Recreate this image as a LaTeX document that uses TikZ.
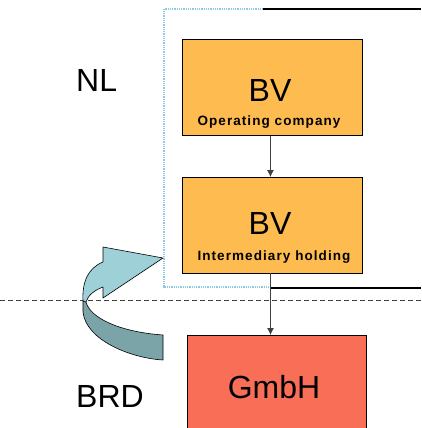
\documentclass[tikz,border=0pt]{standalone}
\usepackage{fontspec}
\setmainfont{Liberation Sans}
\newfontfamily\subfont[LetterSpace=8]{Liberation Sans}
\usetikzlibrary{arrows.meta}
\definecolor{bvorange}{HTML}{FDBB50}
\definecolor{gmbhred}{HTML}{F96E57}
\definecolor{frameblue}{HTML}{8FC8E2}
\definecolor{arrowlight}{HTML}{9ED0D8}
\definecolor{arrowdark}{HTML}{7BA4A9}
\tikzset{
  entity/.style={draw=black, line width=0.9pt, minimum width=180pt, minimum height=96pt, inner sep=0pt},
  big/.style={font=\fontsize{32}{32}\selectfont, anchor=base, inner sep=0pt},
  sub/.style={font=\subfont\bfseries\fontsize{13.5}{13.5}\selectfont, anchor=base, inner sep=0pt},
  own/.style={draw=black!75, line width=0.8pt, -{Latex[length=7pt,width=7pt]}},
  border/.style={line width=1.3pt, black},
  curlarrow/.style={draw=black, line width=0.6pt, line join=round}
}
\begin{document}
\begin{tikzpicture}[x=1pt, y=-1pt]
\useasboundingbox (0,0) rectangle (421,428);
\clip (0,0) rectangle (421,428);

% national frame and boundary lines
\draw[frameblue, line width=1.4pt, dash pattern=on 1pt off 0.8pt] (270,9) -- (164,9) -- (164,287) -- (270,287);
\draw[border] (263,9) -- (421,9);
\draw[border] (270,288) -- (421,288);
\draw[black!75, line width=0.8pt, dash pattern=on 5pt off 3pt] (0,300) -- (421,300);

% companies
\node[entity, fill=bvorange, anchor=north west] (op) at (182,39) {};
\node[entity, fill=bvorange, anchor=north west] (ih) at (182,177) {};
\node[entity, fill=gmbhred, anchor=north west, minimum width=179pt, minimum height=110pt] (gm) at (187,335) {};

\node[big] (opbv) at (270,101.7) {BV};
\node[sub] (optx) at (269,125) {Operating company};
\node[big] (ihbv) at (270,234) {BV};
\node[sub] (ihtx) at (274,260.7) {Intermediary holding};
\node[big] (gmtx) at (274,398.3) {GmbH};

% countries
\node[big, anchor=base west] (nl) at (76,92) {NL};
\node[big, anchor=base west] (brd) at (76,407) {BRD};

% shareholdings
\draw[own] ([xshift=-2pt]op.south) -- ([xshift=-2pt]ih.north);
\coordinate (ihout) at (270.5,273);
\coordinate (gmin) at (270.5,335);
\draw[own] (ihout) -- (gmin);

% curved arrow: lower (back) band
\path[curlarrow, fill=arrowdark] (83,301) -- (83,312)
  .. controls (86,340) and (130,358) .. (163,360) -- (163,335)
  .. controls (120,332) and (90,318) .. (86,302) -- cycle;
% curved arrow: upper band with head
\path[curlarrow, fill=arrowlight] (83,301)
  .. controls (82,282) and (88,268) .. (103,262)
  -- (103,247) -- (163,258) -- (103,298) -- (103,287)
  .. controls (95,290) and (88,295) .. (86,302) -- cycle;
\end{tikzpicture}
\end{document}
